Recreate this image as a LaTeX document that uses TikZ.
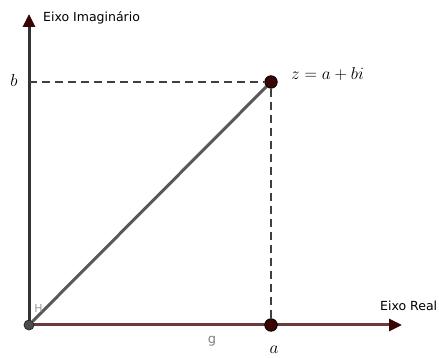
\documentclass[tikz,border=0pt]{standalone}
\usepackage{fontspec}
\setsansfont{DejaVu Sans}
\usetikzlibrary{arrows.meta}
\definecolor{eixoreal}{HTML}{6B3B3B}
\definecolor{ponto}{HTML}{3A0505}
\tikzset{
  eixo/.style={line width=3pt, -{Triangle[length=13pt,width=12pt,color=ponto]}},
  tracejado/.style={dash pattern=on 8pt off 5pt, line width=2.3pt, black!75},
  rotulo/.style={font=\fontsize{12.5}{14}\selectfont\sffamily, inner sep=0pt},
  rotulomat/.style={font=\fontsize{17.5}{20}\selectfont, inner sep=0pt},
  ponto/.style={circle, fill=ponto, draw=black, line width=0.8pt, minimum size=12.5pt, inner sep=0pt},
}
\begin{document}
\begin{tikzpicture}[x=1pt,y=1pt]
    \useasboundingbox (0,0) rectangle (439,358);
    \coordinate (O) at (29,33);
    \coordinate (topo) at (29,344);
    \coordinate (fim) at (402,33);
    \coordinate (B) at (29,276);
    \coordinate (A) at (271,33);
    \coordinate (Zc) at (271,276);
    % eixos
    \draw[eixo, draw=black!80] (O) -- (topo);
    \draw[eixo, draw=eixoreal] (O) -- (fim);
    % pontos
    \node[circle, fill=black!70, draw=black!85, line width=0.8pt, minimum size=10pt, inner sep=0pt] (Opt) at (O) {};
    \node[ponto] (Z) at (Zc) {};
    \node[ponto] (Apt) at (A) {};
    % segmentos
    \draw[line width=3pt, black!65] (Opt) -- (Z);
    \draw[tracejado] (B) -- (Z);
    \draw[tracejado] (Z) -- (Apt);
    % rotulos
    \node[rotulo, anchor=base west] (lblimag) at (43,336) {Eixo Imaginário};
    \node[rotulo, anchor=base west] (lblreal) at (380,47) {Eixo Real};
    \node[rotulomat, anchor=base west] (lblz) at (291,278) {$z = a + bi$};
    \node[rotulomat, anchor=base] (lblb) at (14,271) {$b$};
    \node[rotulomat, anchor=base] (lbla) at (274,4) {$a$};
    \node[rotulo, font=\fontsize{13}{14}\selectfont\sffamily, text=black!50, anchor=base] (lblg) at (212,14) {g};
    \node[font=\fontsize{11}{12}\selectfont\sffamily, text=black!40, inner sep=0pt] (lblH) at (38.5,50) {H};
\end{tikzpicture}
\end{document}
